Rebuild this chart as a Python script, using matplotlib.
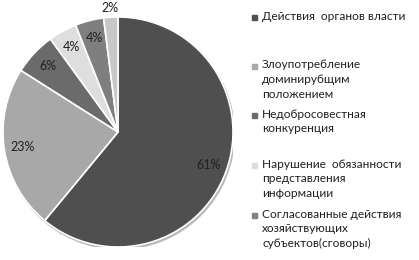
import matplotlib.pyplot as plt
from matplotlib.patches import Rectangle, Circle

shares = [61, 23, 6, 4, 4, 2]
colors = ['#4f4f4f', '#a8a8a8', '#6b6b6b', '#dedede', '#7f7f7f', '#c8c8c8']
legend_labels = [
    'Действия  органов власти',
    'Злоупотребление\nдоминирубщим\nположением',
    'Недобросовестная\nконкуренция',
    'Нарушение  обязанности\nпредставления\nинформации',
    'Согласованные действия\nхозяйствующих\nсубъектов(сговоры)',
]

plt.rcParams['font.family'] = ['Lato', 'DejaVu Sans']

fig = plt.figure(figsize=(4.19, 2.6), dpi=100)
ax = fig.add_axes([3 / 419, 13 / 260, 230 / 419, 230 / 260])
ax.set_aspect('equal')

# soft shadow under the pie
ax.add_patch(Circle((0.012, -0.018), 1.0, color='#b8b8b8', zorder=0))

wedges, texts, autotexts = ax.pie(
    shares, colors=colors, startangle=90, counterclock=False,
    autopct='%d%%', pctdistance=0.84,
    wedgeprops=dict(edgecolor='white', linewidth=1.2),
    textprops=dict(fontsize=9, color='#202020'))
# smallest slice label sits outside the pie
x, y = autotexts[-1].get_position()
autotexts[-1].set_position((x / 0.84 * 1.08, y / 0.84 * 1.08))
ax.set_xlim(-1, 1)
ax.set_ylim(-1, 1)
ax.axis('off')

# legend drawn by hand, evenly spaced like the original
tops = [17, 66, 115, 165, 215]
for lab, col, yy in zip(legend_labels, colors, tops):
    fig.patches.append(Rectangle((252 / 419, 1 - (yy + 3) / 260), 5 / 419, 5 / 260,
                                 transform=fig.transFigure, color=col, figure=fig))
    fig.text(262 / 419, 1 - (yy - 6.5) / 260, lab, fontsize=8.6, va='top', ha='left',
             color='#202020', linespacing=1.42)

fig.savefig('out.png', dpi=100)
